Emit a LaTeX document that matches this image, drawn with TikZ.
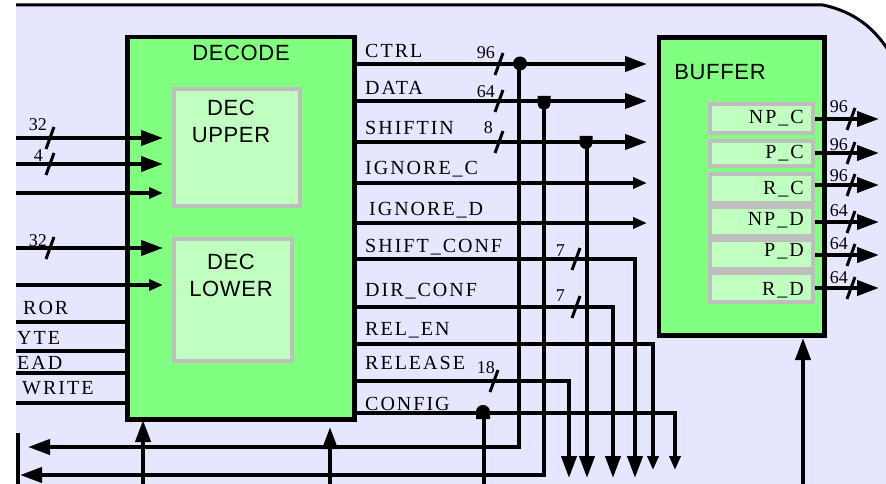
\documentclass[tikz,border=0pt]{standalone}
\usepackage{fontspec}
\setmainfont{Liberation Serif}
\newfontfamily\lblfont[LetterSpace=10]{Liberation Serif}
\newfontfamily\hdrfont[LetterSpace=3]{Liberation Sans}
\newfontfamily\numfont{Liberation Serif}
\usetikzlibrary{arrows.meta}
\definecolor{lav}{RGB}{230,230,255}
\definecolor{dgreen}{RGB}{128,255,128}
\definecolor{lgreen}{RGB}{192,255,192}
\definecolor{gbord}{RGB}{190,190,190}
\tikzset{
  box/.style={draw, line width=4.5pt, fill=dgreen, inner sep=0pt, anchor=north west},
  sub/.style={draw=gbord, line width=4pt, fill=lgreen, inner sep=0pt, anchor=north west},
  wire/.style={line width=4pt},
  bigarr/.style={wire, -{Triangle[length=22pt,width=15pt]}},
  smallarr/.style={wire, -{Triangle[length=14pt,width=11pt]}},
  busmark/.style={line width=3pt},
  lab/.style={font=\lblfont\fontsize{20}{24}\selectfont, inner sep=0pt},
  num/.style={font=\numfont\fontsize{18}{21}\selectfont, inner sep=0pt, anchor=base east},
  hd/.style={font=\hdrfont\fontsize{22}{27}\selectfont, inner sep=0pt, align=center},
}
\begin{document}
\begin{tikzpicture}[x=1pt,y=-1pt]
\useasboundingbox (0,0) rectangle (886,484);
\fill[white] (0,0) rectangle (886,484);
\fill[lav] (16,5) -- (823,5) .. controls (855,12) and (875,28) .. (892,56) -- (892,484) -- (16,484) -- cycle;
\draw[line width=3pt] (16,5) -- (823,5) .. controls (855,12) and (875,28) .. (892,56);

% main boxes
\node[box, minimum width=227pt, minimum height=382pt] (decode) at (125,35) {};
\node[sub, minimum width=126pt, minimum height=117pt] (decu) at (172,87) {};
\node[sub, minimum width=118pt, minimum height=122pt] (decl) at (172,237) {};
\node[box, minimum width=165.5pt, minimum height=297.5pt] (buffer) at (656.5,35.5) {};

% buffer cells
\node[sub, minimum width=103pt, minimum height=29pt] (cnpc) at (708,102) {};
\node[sub, minimum width=103pt, minimum height=25pt] (cpc) at (708,139) {};
\node[sub, minimum width=103pt, minimum height=29pt] (crc) at (708,172) {};
\node[sub, minimum width=103pt, minimum height=29pt] (cnpd) at (708,205) {};
\node[sub, minimum width=103pt, minimum height=29pt] (cpd) at (708,238) {};
\node[sub, minimum width=103pt, minimum height=29pt] (crd) at (708,271) {};

% headings
\node[hd] (tdecode) at (241,53) {DECODE};
\node[hd] (tdecu) at (231,121.5) {DEC\\UPPER};
\node[hd] (tdecl) at (231,275) {DEC\\LOWER};
\node[hd] (tbuffer) at (720,72) {BUFFER};

% cell labels
\node[lab, anchor=base east] (lnpc) at (804,124) {NP\_C};
\node[lab, anchor=base east] (lpc) at (804,158) {P\_C};
\node[lab, anchor=base east] (lrc) at (804,194) {R\_C};
\node[lab, anchor=base east] (lnpd) at (804,225) {NP\_D};
\node[lab, anchor=base east] (lpd) at (804,256) {P\_D};
\node[lab, anchor=base east] (lrd) at (804,295) {R\_D};

% left labels
\node[lab, anchor=base west] (lerr) at (23,314) {ROR};
\node[lab, anchor=base west] (lbyte) at (17,344) {YTE};
\node[lab, anchor=base west] (lread) at (17,369) {EAD};
\node[lab, anchor=base west] (lwrite) at (22,394) {WRITE};

% output labels
\node[lab, anchor=base west] (lctrl) at (365,58) {CTRL};
\node[lab, anchor=base west] (ldata) at (365,95) {DATA};
\node[lab, anchor=base west] (lshin) at (365,135) {SHIFTIN};
\node[lab, anchor=base west] (lignc) at (365,175) {IGNORE\_C};
\node[lab, anchor=base west] (lignd) at (369,215) {IGNORE\_D};
\node[lab, anchor=base west] (lshcf) at (365,252) {SHIFT\_CONF};
\node[lab, anchor=base west] (ldir) at (365,296) {DIR\_CONF};
\node[lab, anchor=base west] (lrelen) at (365,335) {REL\_EN};
\node[lab, anchor=base west] (lrel) at (365,369) {RELEASE};
\node[lab, anchor=base west] (lcfg) at (365,410) {CONFIG};

% bus widths
\node[num] (n32a) at (47,131) {32};
\node[num] (n4) at (43,161) {4};
\node[num] (n32b) at (47,246) {32};
\node[num] (n96a) at (495,59) {96};
\node[num] (n64a) at (495,98) {64};
\node[num] (n8) at (493,134) {8};
\node[num] (n7a) at (565,256) {7};
\node[num] (n7b) at (565,301) {7};
\node[num] (n18) at (495,373) {18};
\node[num] (n96b) at (848,113) {96};
\node[num] (n96c) at (848,150) {96};
\node[num] (n96d) at (848,182) {96};
\node[num] (n64b) at (848,216) {64};
\node[num] (n64c) at (848,249) {64};
\node[num] (n64d) at (848,283) {64};

% coordinates
\coordinate (in1) at (16,138); \coordinate (t1) at (163,138);
\coordinate (in2) at (16,164); \coordinate (t2) at (163,164);
\coordinate (in3) at (16,193); \coordinate (t3) at (163,193);
\coordinate (in4) at (16,248); \coordinate (t4) at (163,248);
\coordinate (in5) at (16,285); \coordinate (t5) at (163,285);
\coordinate (in6) at (16,322);
\coordinate (in7) at (16,351);
\coordinate (in8) at (16,373);
\coordinate (in9) at (16,403);

\coordinate (octrl) at (647,64);
\coordinate (odata) at (647,101);
\coordinate (oshin) at (647,142);
\coordinate (oignc) at (647,183);
\coordinate (oignd) at (647,223);
\coordinate (kshcf) at (635,259); \coordinate (bshcf) at (635,478);
\coordinate (kdir) at (613,307);  \coordinate (bdir) at (613,478);
\coordinate (krelen) at (653,344); \coordinate (brelen) at (653,470);
\coordinate (krel) at (569,381);  \coordinate (brel) at (569,478);
\coordinate (kcfg) at (675,413);  \coordinate (bcfg) at (675,470);
\coordinate (jctrl) at (519,64);  \coordinate (lctrlT) at (28,447);
\coordinate (jdata) at (544,101); \coordinate (ldataT) at (20,475);
\coordinate (jshin) at (587,142); \coordinate (bshin) at (587,478);
\coordinate (jcfg) at (484,413);  \coordinate (bcfgend) at (484,484);
\coordinate (bot1) at (143,484); \coordinate (up1) at (143,420);
\coordinate (bot2) at (330,484); \coordinate (up2) at (330,427);
\coordinate (bot3) at (803,484); \coordinate (up3) at (803,338);
\coordinate (lv1) at (18,433); \coordinate (lv2) at (18,484);
\coordinate (onpc) at (879,119);
\coordinate (opc) at (879,153);
\coordinate (orc) at (879,185);
\coordinate (onpd) at (879,222);
\coordinate (opd) at (879,255);
\coordinate (ord) at (879,288);

% input wires
\draw[bigarr] (in1) -- (t1);
\draw[bigarr] (in2) -- (t2);
\draw[smallarr] (in3) -- (t3);
\draw[bigarr] (in4) -- (t4);
\draw[smallarr] (in5) -- (t5);
\draw[wire] (in6) -- (in6 -| decode.west);
\draw[wire] (in7) -- (in7 -| decode.west);
\draw[wire] (in8) -- (in8 -| decode.west);
\draw[wire] (in9) -- (in9 -| decode.west);

% output wires
\draw[bigarr] (decode.east |- octrl) -- (octrl);
\draw[bigarr] (decode.east |- odata) -- (odata);
\draw[bigarr] (decode.east |- oshin) -- (oshin);
\draw[smallarr] (decode.east |- oignc) -- (oignc);
\draw[smallarr] (decode.east |- oignd) -- (oignd);
\draw[bigarr] (decode.east |- kshcf) -- (kshcf) -- (bshcf);
\draw[bigarr] (decode.east |- kdir) -- (kdir) -- (bdir);
\draw[smallarr] (decode.east |- krelen) -- (krelen) -- (brelen);
\draw[bigarr] (decode.east |- krel) -- (krel) -- (brel);
\draw[smallarr] (decode.east |- kcfg) -- (kcfg) -- (bcfg);
\draw[bigarr] (jctrl) -- (jctrl |- lctrlT) -- (lctrlT);
\draw[bigarr] (jdata) -- (jdata |- ldataT) -- (ldataT);
\draw[bigarr] (jshin) -- (bshin);
\draw[wire] (jcfg) -- (bcfgend);
\draw[bigarr] (bot1) -- (up1);
\draw[bigarr] (bot2) -- (up2);
\draw[bigarr] (bot3) -- (up3);
\draw[wire] (lv1) -- (lv2);

% buffer outputs
\draw[bigarr] (cnpc.east |- onpc) -- (onpc);
\draw[bigarr] (cpc.east |- opc) -- (opc);
\draw[bigarr] (crc.east |- orc) -- (orc);
\draw[bigarr] (cnpd.east |- onpd) -- (onpd);
\draw[bigarr] (cpd.east |- opd) -- (opd);
\draw[bigarr] (crd.east |- ord) -- (ord);

% junction dots
\fill (520,63.5) circle[radius=7pt];
\fill (537.5,96) -- (550.5,96) -- (550.5,103) .. controls (550.5,107.5) and (547.5,109.5) .. (544,109.5) .. controls (540.5,109.5) and (537.5,107.5) .. (537.5,103) -- cycle;
\fill (579.5,136) -- (592.5,136) -- (592.5,142.5) .. controls (592.5,146.5) and (589.5,149) .. (586,149) .. controls (582.5,149) and (579.5,146.5) .. (579.5,142.5) -- cycle;
\fill (476,419) -- (476,412) .. controls (476,408) and (479,405) .. (483,405) .. controls (487,405) and (490,408) .. (490,412) -- (490,419) -- cycle;

% bus slashes
\foreach \px/\py in {50/138, 50/164, 50/248, 499/64, 499/101, 499/142, 576/259, 576/307, 494/381, 851/119, 851/153, 851/185, 851/222, 851/255, 851/288}
  \draw[busmark] (\px,\py) ++(4,-11) -- ++(-8,22);
\end{tikzpicture}
\end{document}
